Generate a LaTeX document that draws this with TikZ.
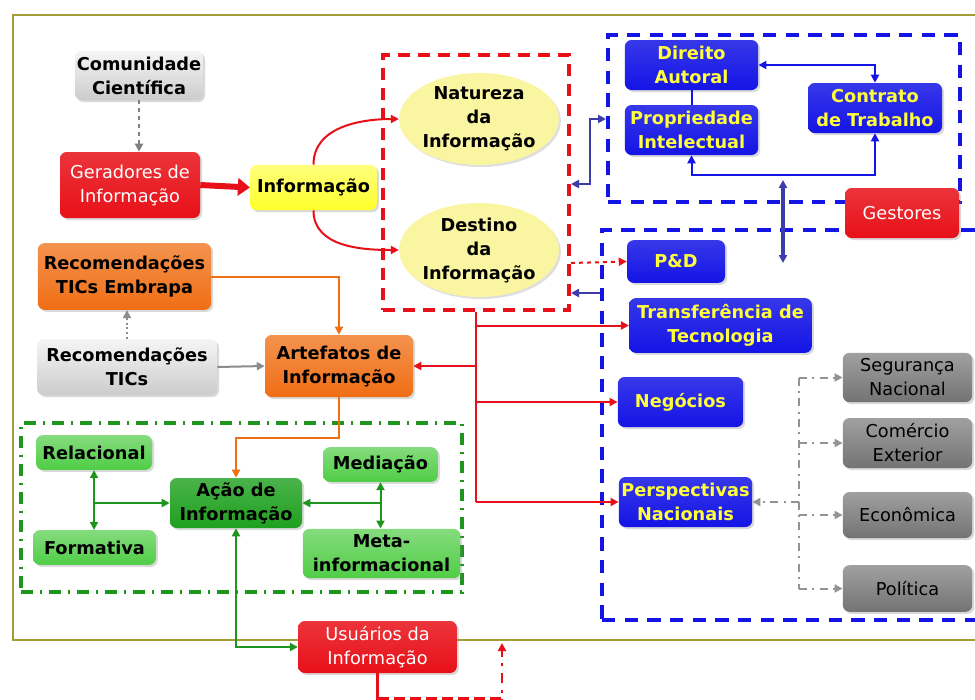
\documentclass[tikz,border=0pt]{standalone}
\usepackage{fontspec}
\setmainfont{DejaVu Sans}
\usetikzlibrary{shapes.geometric}
\usetikzlibrary{shadows}
\usetikzlibrary{arrows.meta}

\definecolor{cred}{RGB}{232,16,24}
\definecolor{cyellow}{RGB}{255,255,40}
\definecolor{corange}{RGB}{240,110,20}
\definecolor{cblue}{RGB}{20,20,230}
\definecolor{cgreen}{RGB}{80,205,70}
\definecolor{cdgreen}{RGB}{30,160,30}
\definecolor{cellipse}{RGB}{250,245,160}
\definecolor{cslate}{RGB}{60,60,170}
\definecolor{cline}{RGB}{30,150,30}
\definecolor{cframe}{RGB}{165,155,55}
\definecolor{ctxt}{RGB}{255,255,60}

\newcommand{\boxfont}{\fontsize{13.3}{18}\selectfont}

\tikzset{
  box/.style={rounded corners=5pt, align=center, inner sep=1pt, font=\boxfont\bfseries,
    drop shadow={opacity=0.3, shadow xshift=1.5pt, shadow yshift=-1.5pt}},
  lgraybox/.style={box, top color=gray!8, bottom color=gray!40},
  dgraybox/.style={box, top color={rgb,255:red,160;green,160;blue,160}, bottom color={rgb,255:red,115;green,115;blue,115}, font=\boxfont},
  redbox/.style={box, top color=cred!85!white, bottom color=cred, text=white, font=\boxfont},
  yelbox/.style={box, top color=cyellow!60!white, bottom color=cyellow},
  orgbox/.style={box, top color=corange!75!white, bottom color=corange},
  bluebox/.style={box, top color=cblue!85!white, bottom color=cblue, text=ctxt},
  grnbox/.style={box, top color=cgreen!70!white, bottom color=cgreen},
  dgrnbox/.style={box, top color=cdgreen!80!white, bottom color=cdgreen},
  ellbox/.style={ellipse, inner sep=0pt, align=center, font=\boxfont\bfseries, fill=cellipse,
    drop shadow={opacity=0.25, shadow xshift=1.5pt, shadow yshift=-1.5pt}},
  tip/.style={-{Triangle[length=6pt,width=6pt]}},
  tips/.style={{Triangle[length=6pt,width=6pt]}-{Triangle[length=6pt,width=6pt]}},
  redframe/.style={draw=cred, line width=3pt, dash pattern=on 9pt off 6pt, inner sep=0pt},
  blueframe/.style={draw=cblue, line width=3pt, dash pattern=on 10pt off 7pt, inner sep=0pt},
  grnframe/.style={draw=cline, line width=3pt, dash pattern=on 9pt off 5pt on 2pt off 5pt, inner sep=0pt},
  grayline/.style={draw=gray!85, line width=1.5pt, dash pattern=on 6pt off 4pt on 1.5pt off 4pt},
}

\begin{document}
\begin{tikzpicture}[x=0.75pt,y=0.75pt,yscale=-1,xscale=1]
\useasboundingbox (0,0) rectangle (975,700);

%Frame
\draw [cframe, line width=2pt] (13,15) rectangle (995,640) ;

%Dashed groups
\node [redframe, minimum width=139.5pt, minimum height=191.25pt] (frred) at (476,182.5) {};
\node [blueframe, minimum width=264pt, minimum height=125.25pt] (frbtop) at (784,118.5) {};
\node [blueframe, minimum width=291pt, minimum height=292.5pt] (frbbot) at (796,425) {};
\node [grnframe, minimum width=330.75pt, minimum height=126.75pt] (frgrn) at (241.5,507.5) {};

% Text Node
\node [lgraybox, minimum width=96pt, minimum height=37pt] (com) at (139,75.5) {Comunidade\\Científica};
\node [redbox, minimum width=105pt, minimum height=49.5pt] (ger) at (130,185) {Geradores de\\Informação};
\node [yelbox, minimum width=95pt, minimum height=34pt] (inf) at (313.5,187.5) {Informação};
\node [ellbox, minimum width=118.5pt, minimum height=69pt] (nat) at (479,119) {Natureza\\da\\Informação};
\node [ellbox, minimum width=118.5pt, minimum height=70.5pt] (des) at (479,250) {Destino\\da\\Informação};

\node [bluebox, minimum width=100pt, minimum height=37.5pt] (dir) at (691.5,65) {Direito\\Autoral};
\node [bluebox, minimum width=100pt, minimum height=37.5pt] (pro) at (691.5,130) {Propriedade\\Intelectual};
\node [bluebox, minimum width=100.5pt, minimum height=37.5pt] (con) at (875,108) {Contrato\\de Trabalho};
\node [redbox, minimum width=85.5pt, minimum height=37.5pt] (ges) at (902,213) {Gestores};

\node [bluebox, minimum width=73.5pt, minimum height=32pt] (pd) at (676,261.5) {P\&D};
\node [bluebox, minimum width=137pt, minimum height=41pt] (tra) at (720.5,325.5) {Transferência de\\Tecnologia};
\node [bluebox, minimum width=94pt, minimum height=37.5pt] (neg) at (680.5,402) {Negócios};
\node [bluebox, minimum width=100pt, minimum height=37.5pt] (per) at (685.5,502) {Perspectivas\\Nacionais};

\node [dgraybox, minimum width=97pt, minimum height=37pt] (seg) at (907.5,377.5) {Segurança\\Nacional};
\node [dgraybox, minimum width=97pt, minimum height=37.5pt] (cex) at (907.5,443) {Comércio\\Exterior};
\node [dgraybox, minimum width=97pt, minimum height=34.5pt] (eco) at (907.5,515) {Econômica};
\node [dgraybox, minimum width=97pt, minimum height=35pt] (pol) at (907.5,588.5) {Política};

\node [orgbox, minimum width=130pt, minimum height=50pt] (emb) at (124.5,276.5) {Recomendações\\TICs Embrapa};
\node [lgraybox, minimum width=135pt, minimum height=42pt] (tic) at (127,367) {Recomendações\\TICs};
\node [orgbox, minimum width=111pt, minimum height=46.5pt] (art) at (339,366) {Artefatos de\\Informação};

\node [grnbox, minimum width=87pt, minimum height=26pt] (rel) at (94,452.5) {Relacional};
\node [grnbox, minimum width=92pt, minimum height=26pt] (frm) at (94.5,547.5) {Formativa};
\node [dgrnbox, minimum width=99pt, minimum height=37.5pt] (aca) at (236,503) {Ação de\\Informação};
\node [grnbox, minimum width=86pt, minimum height=26pt] (med) at (380.5,464.5) {Mediação};
\node [grnbox, minimum width=118pt, minimum height=37pt] (met) at (381.5,553.5) {Meta-\\informacional};
\node [redbox, minimum width=119pt, minimum height=39pt] (usu) at (377.5,647) {Usuários da\\Informação};

%Connectors, left part
\draw [gray, line width=1.5pt, dashed, tip] (com.south) -- (com.south |- ger.north) ;
\draw [cred, line width=4.5pt, -{Triangle[length=9pt,width=13pt]}] (ger.east) -- (inf.west) ;
\draw [cred, line width=1.5pt, tip] (inf.north) to[out=-90,in=180] (nat.west) ;
\draw [cred, line width=1.5pt, tip] (inf.south) to[out=90,in=180] (des.west) ;
\draw [gray!90, line width=1.5pt, dotted, tip] (tic.north) -- (tic.north |- emb.south) ;
\draw [gray!90, line width=1.5pt, tip] (tic.east) -- (art.west) ;
\draw [corange, line width=1.5pt, tip] (emb.east) -| (art.north) ;
\draw [corange, line width=1.5pt, tip] (art.south) -- ++(0,41) -| (aca.north) ;

%Green group
\draw [cline, line width=1.5pt, tips] (rel.south) -- (rel.south |- frm.north) ;
\draw [cline, line width=1.5pt, tip] (rel.south |- aca.west) -- (aca.west) ;
\draw [cline, line width=1.5pt, tips] (med.south) -- (med.south |- met.north) ;
\draw [cline, line width=1.5pt, tip] (med.south |- aca.east) -- (aca.east) ;
\draw [cline, line width=1.5pt, tips] (aca.south) |- (usu.west) ;

%Red tree
\draw [cred, line width=1.5pt] (frred.south) -- (frred.south |- per.west) ;
\foreach \n in {tra,neg,per}
  \draw [cred, line width=1.5pt, tip] (frred.south |- \n.west) -- (\n.west) ;
\draw [cred, line width=1.5pt, tip] (frred.south |- art.east) -- (art.east) ;
\draw [cred, line width=1.5pt, dashed, tip] (frred.east |- 0,263) -- (pd.west) ;

%Blue part
\draw [cslate, line width=1.5pt, tips] (frred.east |- 0,184) -- (590,184) -- (590,119) -- (frbtop.west |- 0,119) ;
\draw [cslate, line width=1.5pt, tip] (frbbot.west |- 0,293) -- (frred.east |- 0,293) ;
\draw [cblue, line width=1.5pt] (dir) -- (pro) ;
\draw [cblue, line width=1.5pt, tips] (dir.east) -| (con.north) ;
\draw [cblue, line width=1.5pt, tips] (pro.south) -- ++(0,20) -| (con.south) ;
\coordinate (gtop) at (783,180) ;
\coordinate (gbot) at (783,263) ;
\draw [cslate, line width=2.5pt, tips] (gtop) -- (gbot) ;

%Gray dash dot
\coordinate (trk) at (799,0) ;
\draw [grayline] (trk |- seg.west) -- (trk |- pol.west) ;
\foreach \n in {seg,cex,eco,pol}
  \draw [grayline, tip] (trk |- \n.west) -- (\n.west) ;
\draw [grayline, tip] (trk |- per.east) -- (per.east) ;

%Bottom, cut by the page
\draw [cred, line width=2pt] (usu.south) -- ++(0,35) ;
\draw [cred, line width=3pt, dash pattern=on 8pt off 4pt] (378,699) -- (505,699) ;
\draw [cred, line width=2pt, dash pattern=on 8pt off 5pt on 2pt off 5pt, tip] (502,710) -- (502,643) ;

\end{tikzpicture}
\end{document}
